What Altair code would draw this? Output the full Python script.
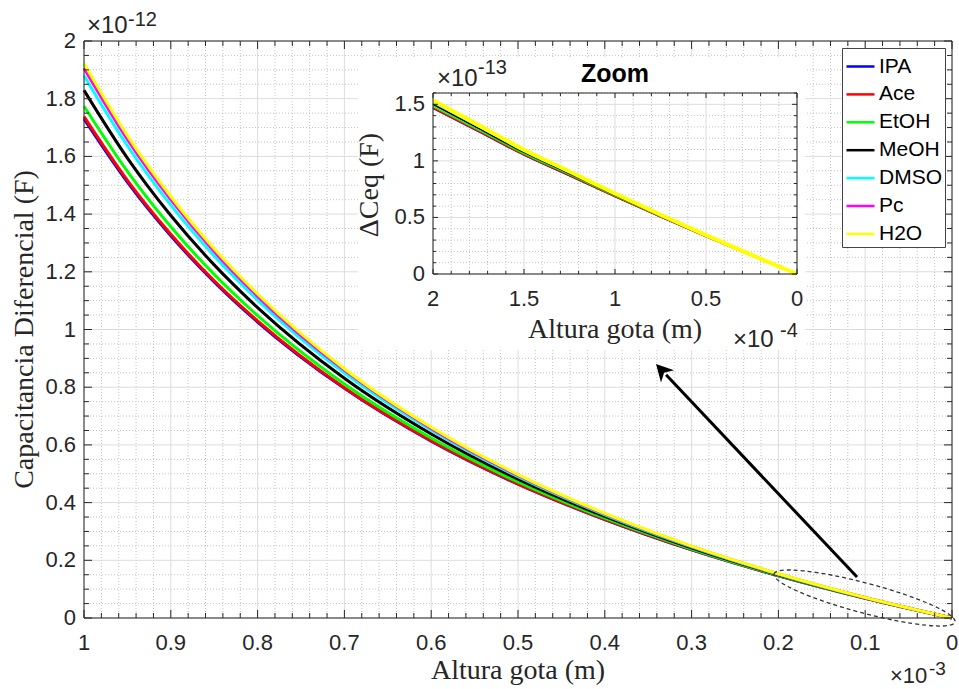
import math
import altair as alt
import pandas as pd

# ---------------- data ----------------
series = ["IPA", "Ace", "EtOH", "MeOH", "DMSO", "Pc", "H2O"]
colors = ["#0000ff", "#ff0000", "#00ff00", "#000000", "#00ffff", "#ff00ff", "#ffff00"]

# main plot: droplet height (x1e-3 m) vs differential capacitance (x1e-12 F)
h_main = [1.0, 0.95, 0.9, 0.85, 0.8, 0.7, 0.6, 0.5, 0.4, 0.3, 0.2, 0.1, 0.0]
c_ipa = [1.730, 1.511, 1.325, 1.165, 1.026, 0.796, 0.613, 0.464, 0.341, 0.236, 0.1464, 0.0684, 0.0]
c_ace = [1.738, 1.517, 1.330, 1.169, 1.030, 0.798, 0.615, 0.465, 0.342, 0.2368, 0.1467, 0.0685, 0.0]
c_etoh = [1.774, 1.548, 1.356, 1.191, 1.048, 0.811, 0.624, 0.4716, 0.3459, 0.2393, 0.1480, 0.0690, 0.0]
c_meoh = [1.829, 1.594, 1.395, 1.224, 1.076, 0.831, 0.638, 0.481, 0.352, 0.243, 0.150, 0.0698, 0.0]
c_dmso = [1.880, 1.637, 1.431, 1.255, 1.102, 0.849, 0.651, 0.4898, 0.3577, 0.2465, 0.1518, 0.0705, 0.0]
c_pc = [1.906, 1.659, 1.450, 1.270, 1.115, 0.859, 0.657, 0.4941, 0.3606, 0.2482, 0.1528, 0.0709, 0.0]
c_h2o = [1.922, 1.672, 1.461, 1.280, 1.123, 0.864, 0.661, 0.497, 0.3624, 0.2493, 0.1534, 0.0711, 0.0]

# zoom inset: droplet height (x1e-4 m) vs delta Ceq (x1e-13 F)
h_zoom = [2.0, 1.75, 1.5, 1.25, 1.0, 0.75, 0.5, 0.25, 0.0]
z_ipa = [1.464, 1.259, 1.051, 0.869, 0.684, 0.505, 0.332, 0.163, 0.0]
z_ace = [1.467, 1.261, 1.053, 0.871, 0.685, 0.506, 0.332, 0.163, 0.0]
z_etoh = [1.480, 1.272, 1.062, 0.878, 0.690, 0.510, 0.335, 0.164, 0.0]
z_meoh = [1.500, 1.288, 1.075, 0.888, 0.698, 0.515, 0.338, 0.166, 0.0]
z_dmso = [1.518, 1.303, 1.087, 0.898, 0.705, 0.520, 0.341, 0.167, 0.0]
z_pc = [1.528, 1.311, 1.093, 0.902, 0.709, 0.523, 0.343, 0.168, 0.0]
z_h2o = [1.534, 1.316, 1.097, 0.906, 0.711, 0.524, 0.344, 0.169, 0.0]

# ticks / grid values and tick labels
main_x_major = [round(i * 0.1, 1) for i in range(11)]
main_x_labels = ["0", "0.1", "0.2", "0.3", "0.4", "0.5", "0.6", "0.7", "0.8", "0.9", "1"]
main_x_minor = [round(i * 0.02, 2) for i in range(51) if i % 5]
main_y_major = [round(i * 0.2, 1) for i in range(11)]
main_y_labels = ["0", "0.2", "0.4", "0.6", "0.8", "1", "1.2", "1.4", "1.6", "1.8", "2"]
main_y_minor = [round(i * 0.05, 2) for i in range(41) if i % 4]
zoom_x_major = [0.0, 0.5, 1.0, 1.5, 2.0]
zoom_x_labels = ["0", "0.5", "1", "1.5", "2"]
zoom_x_minor = [round(i * 0.1, 1) for i in range(21) if i % 5]
zoom_y_major = [0.0, 0.5, 1.0, 1.5]
zoom_y_labels = ["0", "0.5", "1", "1.5"]
zoom_y_minor = [round(i * 0.1, 1) for i in range(17) if i % 5]

# annotation anchors (main data units)
ellipse_center = [0.1008, 0.0693]
arrow_tail = [0.1094, 0.142]
arrow_head = [0.341, 0.880]

# ---------------- layout ----------------
W, H = 868, 577
AX = "#262626"
SANS = "Liberation Sans"
SERIF = "Liberation Serif"

SX_M = alt.Scale(domain=[0, 1], reverse=True, nice=False, zero=False)
SY_M = alt.Scale(domain=[0, 2], nice=False, zero=False)
SX_Z = alt.Scale(domain=[0, 2], reverse=True, nice=False, zero=False, range=[349, 713])
SY_Z = alt.Scale(domain=[0, 1.6], nice=False, zero=False, range=[233, 52])


def xf(f, sc):
    return alt.X(f, type="quantitative", scale=sc, axis=None)


def yf(f, sc):
    return alt.Y(f, type="quantitative", scale=sc, axis=None)


def xd(v, sc):
    return alt.XDatum(v, type="quantitative", scale=sc, axis=None)


def yd(v, sc):
    return alt.YDatum(v, type="quantitative", scale=sc, axis=None)


def text_layer(t, x, y, size, font=SANS, weight="normal", align="left",
               baseline="alphabetic", angle=0, color=AX):
    df = pd.DataFrame({"t": [t]})
    return alt.Chart(df).mark_text(
        align=align, baseline=baseline, font=font, fontSize=size,
        fontWeight=weight, color=color, angle=angle
    ).encode(x=alt.value(x), y=alt.value(y), text="t:N")


def grid_layers(xmaj, xmin, ymaj, ymin, sx, sy, xlo, xhi, ylo, yhi, full):
    out = []
    for vals, is_x, major in [(xmin, True, False), (ymin, False, False),
                              (xmaj, True, True), (ymaj, False, True)]:
        df = pd.DataFrame({"v": vals})
        if major:
            mk = alt.Chart(df).mark_rule(color="#dcdcdc", strokeWidth=1)
        else:
            mk = alt.Chart(df).mark_rule(color="#c4c4c4", strokeWidth=1, strokeDash=[1, 2])
        if is_x:
            enc = {"x": xf("v:Q", sx)}
            if not full:
                enc["y"] = yd(ylo, sy)
                enc["y2"] = alt.Y2Datum(yhi)
        else:
            enc = {"y": yf("v:Q", sy)}
            if not full:
                enc["x"] = xd(xlo, sx)
                enc["x2"] = alt.X2Datum(xhi)
        out.append(mk.encode(**enc))
    return out


def tick_layers(xvals, yvals, length, sx, sy, xlo, xhi, ylo, yhi):
    out = []
    dfx = pd.DataFrame({"v": xvals})
    dfy = pd.DataFrame({"v": yvals})
    out.append(alt.Chart(dfx).mark_tick(orient="vertical", size=length, thickness=1,
                                        yOffset=-length / 2, color=AX, opacity=1)
               .encode(x=xf("v:Q", sx), y=yd(ylo, sy)))
    out.append(alt.Chart(dfx).mark_tick(orient="vertical", size=length, thickness=1,
                                        yOffset=length / 2, color=AX, opacity=1)
               .encode(x=xf("v:Q", sx), y=yd(yhi, sy)))
    out.append(alt.Chart(dfy).mark_tick(orient="horizontal", size=length, thickness=1,
                                        xOffset=length / 2, color=AX, opacity=1)
               .encode(y=yf("v:Q", sy), x=xd(xlo, sx)))
    out.append(alt.Chart(dfy).mark_tick(orient="horizontal", size=length, thickness=1,
                                        xOffset=-length / 2, color=AX, opacity=1)
               .encode(y=yf("v:Q", sy), x=xd(xhi, sx)))
    return out


def tick_labels(xv, xl, yv, yl, sx, sy, xlo, ylo, dy, dx, size):
    lx = alt.Chart(pd.DataFrame({"v": xv, "t": xl})).mark_text(
        font=SANS, fontSize=size, color=AX, baseline="middle", align="center", dy=dy
    ).encode(x=xf("v:Q", sx), y=yd(ylo, sy), text="t:N")
    ly = alt.Chart(pd.DataFrame({"v": yv, "t": yl})).mark_text(
        font=SANS, fontSize=size, color=AX, baseline="middle", align="right", dx=dx
    ).encode(y=yf("v:Q", sy), x=xd(xlo, sx), text="t:N")
    return [lx, ly]


color_scale = alt.Scale(domain=series, range=colors)

# ---------------- main plot ----------------
main_vals = [c_ipa, c_ace, c_etoh, c_meoh, c_dmso, c_pc, c_h2o]
df_main = pd.DataFrame([{"s": s, "h": h, "c": c}
                        for s, vals in zip(series, main_vals)
                        for h, c in zip(h_main, vals)])

legend = alt.Legend(title=None, orient="none", legendX=758, legendY=7,
                    direction="vertical", symbolType="stroke", symbolSize=784,
                    symbolStrokeWidth=2.5, labelFont=SANS, labelFontSize=21,
                    labelColor="#000000", fillColor="white", strokeColor="#444444",
                    padding=3, rowPadding=1.9, labelOffset=3)

main_lines = alt.Chart(df_main).mark_line(strokeWidth=3, interpolate="monotone").encode(
    x=xf("h:Q", SX_M),
    y=yf("c:Q", SY_M),
    color=alt.Color("s:N", scale=color_scale, legend=legend, sort=series),
)

main_box = alt.Chart(pd.DataFrame({"k": [0]})).mark_rect(
    fillOpacity=0, stroke=AX, strokeWidth=1
).encode(x=xd(1, SX_M), x2=alt.X2Datum(0), y=yd(0, SY_M), y2=alt.Y2Datum(2))

ellipse_path = ("M-1,0 C-1,-0.0884 -0.5523,-0.16 0,-0.16 C0.5523,-0.16 1,-0.0884 1,0 "
                "C1,0.0884 0.5523,0.16 0,0.16 C-0.5523,0.16 -1,0.0884 -1,0 Z")
ellipse = alt.Chart(pd.DataFrame({"x": [ellipse_center[0]], "y": [ellipse_center[1]]})).mark_point(
    shape=ellipse_path, size=35044, angle=14.85, filled=False, color="#333333",
    strokeWidth=1.3, strokeDash=[4, 3], opacity=1
).encode(x=xf("x:Q", SX_M), y=yf("y:Q", SY_M))

# arrow
dx_px = -(arrow_head[0] - arrow_tail[0]) * W
dy_px = -(arrow_head[1] - arrow_tail[1]) * (H / 2)
arrow_angle = math.degrees(math.atan2(dx_px, -dy_px)) % 360
shaft_end = [arrow_head[0] + 0.05 * (arrow_tail[0] - arrow_head[0]),
             arrow_head[1] + 0.05 * (arrow_tail[1] - arrow_head[1])]
df_arrow = pd.DataFrame({"x": [arrow_tail[0]], "y": [arrow_tail[1]],
                         "x2": [shaft_end[0]], "y2": [shaft_end[1]]})
arrow_shaft = alt.Chart(df_arrow).mark_rule(color="black", strokeWidth=3).encode(
    x=xf("x:Q", SX_M), y=yf("y:Q", SY_M), x2="x2:Q", y2="y2:Q")
head_path = "M0,0 L0.8,1.5 L0,1.05 L-0.8,1.5 Z"
arrow_head_mark = alt.Chart(pd.DataFrame({"x": [arrow_head[0]], "y": [arrow_head[1]]})).mark_point(
    shape=head_path, size=500, angle=arrow_angle, filled=True, color="black", opacity=1
).encode(x=xf("x:Q", SX_M), y=yf("y:Q", SY_M))

main_layers = (
    grid_layers(main_x_major, main_x_minor, main_y_major, main_y_minor,
                SX_M, SY_M, 1, 0, 0, 2, True)
    + [main_lines]
    + tick_layers(main_x_major, main_y_major, 8, SX_M, SY_M, 1, 0, 0, 2)
    + tick_layers(main_x_minor, main_y_minor, 5, SX_M, SY_M, 1, 0, 0, 2)
    + tick_labels(main_x_major, main_x_labels, main_y_major, main_y_labels,
                  SX_M, SY_M, 1, 0, 25, -8, 22)
    + [main_box, ellipse, arrow_shaft, arrow_head_mark,
       text_layer("Altura gota (m)", W / 2, 638, 28, font=SERIF, align="center"),
       text_layer("Capacitancia Diferencial (F)", -51, H / 2, 28, font=SERIF,
                  align="center", angle=270),
       text_layer("\u00d710", 3, -8, 24),
       text_layer("-12", 44, -15, 20),
       text_layer("\u00d710", 806, 642, 22),
       text_layer("-3", 845, 634, 19)]
)
main = alt.layer(*main_layers)

# ---------------- inset ----------------
zoom_vals = [z_ipa, z_ace, z_etoh, z_meoh, z_dmso, z_pc, z_h2o]
df_zoom = pd.DataFrame([{"s": s, "h": h, "c": c}
                        for s, vals in zip(series, zoom_vals)
                        for h, c in zip(h_zoom, vals)])

inset_bg = alt.Chart(pd.DataFrame({"k": [0]})).mark_rect(color="white").encode(
    x=alt.value(274), x2=alt.value(721), y=alt.value(16), y2=alt.value(309))

zoom_lines_thin = alt.Chart(df_zoom).transform_filter(alt.datum.s != "H2O").mark_line(
    strokeWidth=1.5, interpolate="monotone").encode(
    x=xf("h:Q", SX_Z), y=yf("c:Q", SY_Z),
    color=alt.Color("s:N", scale=color_scale, legend=None))
zoom_lines_h2o = alt.Chart(df_zoom).transform_filter(alt.datum.s == "H2O").mark_line(
    strokeWidth=4, interpolate="monotone").encode(
    x=xf("h:Q", SX_Z), y=yf("c:Q", SY_Z),
    color=alt.Color("s:N", scale=color_scale, legend=None))

zoom_box = alt.Chart(pd.DataFrame({"k": [0]})).mark_rect(
    fillOpacity=0, stroke=AX, strokeWidth=1
).encode(x=xd(2, SX_Z), x2=alt.X2Datum(0), y=yd(0, SY_Z), y2=alt.Y2Datum(1.6))

inset_layers = (
    [inset_bg]
    + grid_layers(zoom_x_major, zoom_x_minor, zoom_y_major, zoom_y_minor,
                  SX_Z, SY_Z, 2, 0, 0, 1.6, False)
    + [zoom_lines_thin, zoom_lines_h2o]
    + tick_layers(zoom_x_major, zoom_y_major, 5, SX_Z, SY_Z, 2, 0, 0, 1.6)
    + tick_layers(zoom_x_minor, zoom_y_minor, 3, SX_Z, SY_Z, 2, 0, 0, 1.6)
    + tick_labels(zoom_x_major, zoom_x_labels, zoom_y_major, zoom_y_labels,
                  SX_Z, SY_Z, 2, 0, 25, -8, 22)
    + [zoom_box,
       text_layer("Zoom", 531, 41, 25, weight="bold", align="center", color="#000000"),
       text_layer("\u00d710", 353, 45, 24),
       text_layer("-13", 394, 33, 20),
       text_layer("\u00d710", 649, 306, 24),
       text_layer("-4", 696, 296, 20),
       text_layer("Altura gota (m)", 531, 297, 28, font=SERIF, align="center"),
       text_layer("\u0394Ceq (F)", 294, 144, 28, font=SERIF, align="center", angle=270)]
)
inset = alt.layer(*inset_layers)

chart = alt.layer(main, inset).resolve_scale(
    x="independent", y="independent"
).properties(
    width=W, height=H,
    padding={"left": 84, "top": 41, "right": 7, "bottom": 71},
    autosize=alt.AutoSizeParams(type="none"),
    background="white",
).configure_view(stroke=None)

chart.save("out.html", embed_options={"renderer": "svg", "actions": False})
